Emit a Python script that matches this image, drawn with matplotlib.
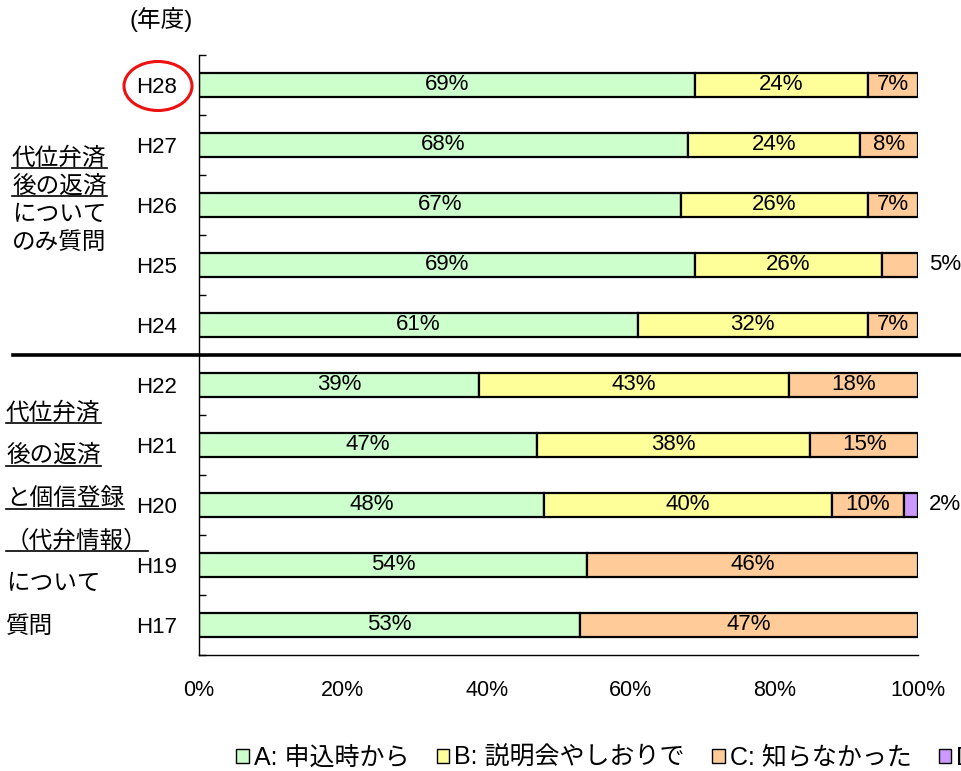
import numpy as np
import matplotlib.pyplot as plt
from matplotlib.patches import Ellipse, Patch
from matplotlib.lines import Line2D

plt.rcParams['font.family'] = ['Liberation Sans', 'Noto Sans CJK JP']

# データ（年度ごとの回答割合 %）
years = ['H28', 'H27', 'H26', 'H25', 'H24', 'H22', 'H21', 'H20', 'H19', 'H17']
a_vals = [69, 68, 67, 69, 61, 39, 47, 48, 54, 53]
b_vals = [24, 24, 26, 26, 32, 43, 38, 40, 0, 0]
c_vals = [7, 8, 7, 5, 7, 18, 15, 10, 46, 47]
d_vals = [0, 0, 0, 0, 0, 0, 0, 2, 0, 0]
legend_labels = ['A: 申込時から', 'B: 説明会やしおりで', 'C: 知らなかった', 'D: 無回答']
colors = ['#CCFFCC', '#FFFF99', '#FFCC99', '#CC99FF']

group1 = ['代位弁済', '後の返済', 'について', 'のみ質問']
group2 = ['代位弁済', '後の返済', 'と個信登録', '（代弁情報）', 'について', '質問']

W, H = 961, 771


def px(x, y):
    # ピクセル座標(左上原点)を図座標へ
    return x / W, 1 - y / H


fig = plt.figure(figsize=(W / 100, H / 100), dpi=100)
ax = fig.add_axes([199 / W, 1 - 655 / H, (918 - 199) / W, 600 / H])

y = np.arange(len(years))
series = [a_vals, b_vals, c_vals, d_vals]
left = np.zeros(len(years))
for vals, col in zip(series, colors):
    vals = np.array(vals, dtype=float)
    m = vals > 0
    ax.barh(y[m], vals[m], left=left[m], height=0.4, color=col,
            edgecolor='black', linewidth=1.6)
    for i in np.where(m)[0]:
        v = vals[i]
        if v >= 6:
            ax.text(left[i] + v / 2, y[i], '%d%%' % v, ha='center', va='center',
                    fontsize=16)
        else:
            ax.text(101.5, y[i], '%d%%' % v, ha='left', va='center',
                    fontsize=16, clip_on=False)
    left = left + vals

ax.set_xlim(0, 100)
ax.set_ylim(len(years) - 0.5, -0.5)
ax.set_xticks(np.arange(0, 101, 20))
ax.set_xticklabels(['%d%%' % v for v in range(0, 101, 20)], fontsize=15.5)
ax.set_yticks(y)
ax.set_yticklabels(years, fontsize=16)
ax.set_yticks(np.arange(-0.5, len(years), 1), minor=True)
ax.tick_params(axis='x', length=0, pad=18)
ax.tick_params(axis='y', which='major', length=0, pad=16)
ax.tick_params(axis='y', which='minor', direction='in', length=5, width=1)
for s in ['top', 'right']:
    ax.spines[s].set_visible(False)
for s in ['left', 'bottom']:
    ax.spines[s].set_linewidth(1)

# 年度ラベル
fig.text(*px(161, 20), '(年度)', ha='center', va='center', fontsize=17)

# H28 を囲む赤丸
cx, cy = px(158, 86)
fig.add_artist(Ellipse((cx, cy), 68 / W, 49 / H, transform=fig.transFigure,
                       fill=False, edgecolor='#EE1111', linewidth=2.2))

# 区切り線
fig.add_artist(Line2D([13 / W, 1], [1 - 355 / H] * 2, transform=fig.transFigure,
                      color='black', linewidth=2.6))

# 左側の説明文
texts = []
for i, s in enumerate(group1):
    t = fig.text(*px(12, 158 + i * 28.3), s, ha='left', va='center', fontsize=17)
    texts.append((t, i < 2))
for i, s in enumerate(group2):
    t = fig.text(*px(6, 413 + i * 42.8), s, ha='left', va='center', fontsize=17)
    texts.append((t, i < 4))

fig.canvas.draw()
r = fig.canvas.get_renderer()
for t, ul in texts:
    if not ul:
        continue
    bb = t.get_window_extent(r)
    yc = (bb.y0 + bb.y1) / 2 - 10
    fig.add_artist(Line2D([bb.x0 / W, bb.x1 / W], [yc / H] * 2,
                          transform=fig.transFigure, color='black', linewidth=1.2))

# 凡例（右端は切れる）
handles = [Patch(facecolor=c, edgecolor='black', linewidth=1) for c in colors]
fig.legend(handles, legend_labels, loc='center left', bbox_to_anchor=px(226, 758),
           ncol=4, frameon=False, fontsize=18, handlelength=0.5, handleheight=0.5,
           handletextpad=0.2, columnspacing=1.1, borderaxespad=0)

fig.savefig('out.png', dpi=100)
